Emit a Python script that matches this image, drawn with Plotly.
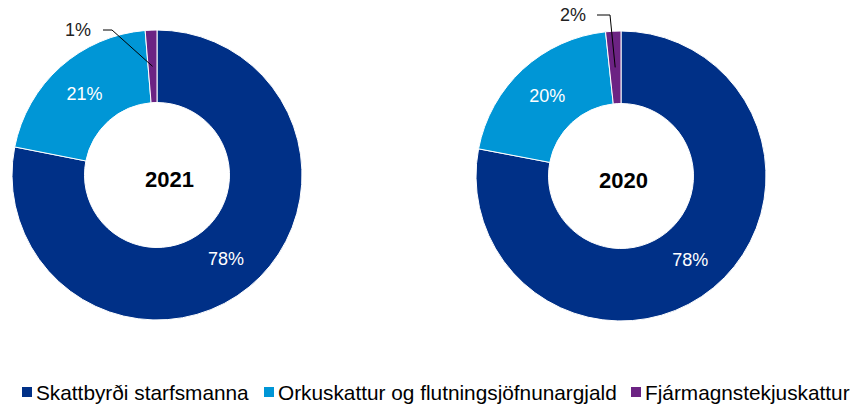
import math
import plotly.graph_objects as go

categories = ["Skattbyrði starfsmanna", "Orkuskattur og flutningsjöfnunargjald", "Fjármagnstekjuskattur"]
values_2021 = [78.1, 20.6, 1.3]
values_2020 = [78.0, 20.3, 1.7]
years = ["2021", "2020"]
colors = ["#003087", "#0096D6", "#6C2383"]

W, H = 857, 405
FONT = "Liberation Sans, Arial, sans-serif"

# pie geometry in pixels (center x, center y from top, outer radius, title x, title y)
geo = [(157, 175, 145, 169, 179), (621, 176, 145, 623, 180)]


def px(x):
    return x / W


def py(y):
    return (H - y) / H


fig = go.Figure()
shapes = []
annotations = []
for i, (year, vals) in enumerate(zip(years, [values_2021, values_2020])):
    cx, cy, r, tlx, tly = geo[i]
    dom_x = [px(cx - r), px(cx + r)]
    dom_y = [py(cy + r), py(cy - r)]
    fig.add_trace(go.Pie(
        labels=categories, values=vals, hole=0.5, sort=False,
        direction="clockwise", rotation=0,
        marker=dict(colors=colors, line=dict(color="white", width=1)),
        texttemplate=["%{percent:.0%}", "%{percent:.0%}", ""],
        textposition="inside", insidetextorientation="horizontal",
        textfont=dict(family=FONT, size=18, color="white"),
        domain=dict(x=dom_x, y=dom_y), showlegend=False,
        hoverinfo="label+percent",
    ))
    annotations.append(dict(x=px(tlx), y=py(tly), xref="paper", yref="paper",
                            xanchor="center", yanchor="middle",
                            text=f"<b>{year}</b>", showarrow=False,
                            font=dict(family=FONT, size=22, color="black")))
    # small slice outside label with leader line
    tot = sum(vals)
    start = (vals[0] + vals[1]) / tot
    mid = start + vals[2] / tot / 2
    ang = 2 * math.pi * mid
    rm = r * 0.75
    sx, sy = cx + rm * math.sin(ang), cy - rm * math.cos(ang)
    if i == 0:
        tx, ty = 78, 30
        e1, e2 = (103, 30), (112, 30)
    else:
        tx, ty = 573, 15
        e1, e2 = (597, 15), (610, 15)
    pts = [e1, e2, (sx, sy)]
    path = "M " + " L ".join(f"{px(x)},{py(y)}" for x, y in pts)
    shapes.append(dict(type="path", path=path, xref="paper", yref="paper",
                       line=dict(color="black", width=1)))
    annotations.append(dict(x=px(tx), y=py(ty), xref="paper", yref="paper",
                            xanchor="center", yanchor="middle",
                            text=f"{round(vals[2] / tot * 100)}%", showarrow=False,
                            font=dict(family=FONT, size=18, color="#222")))

# legend drawn manually (square + label)
legend_x = [22, 264, 631]
for lx, cat, col in zip(legend_x, categories, colors):
    shapes.append(dict(type="rect", xref="paper", yref="paper",
                       x0=px(lx), x1=px(lx + 10), y0=py(397), y1=py(387),
                       fillcolor=col, line=dict(width=0)))
    annotations.append(dict(x=px(lx + 12), y=py(392), xref="paper", yref="paper",
                            xanchor="left", yanchor="middle", text=cat, showarrow=False,
                            font=dict(family=FONT, size=20.8, color="black")))

fig.update_layout(
    width=W, height=H,
    margin=dict(l=0, r=0, t=0, b=0),
    paper_bgcolor="white", plot_bgcolor="white",
    shapes=shapes, annotations=annotations,
    showlegend=False,
)
fig.write_html("out.html", config={"displayModeBar": False},
               post_script="document.body.style.margin='0';")
